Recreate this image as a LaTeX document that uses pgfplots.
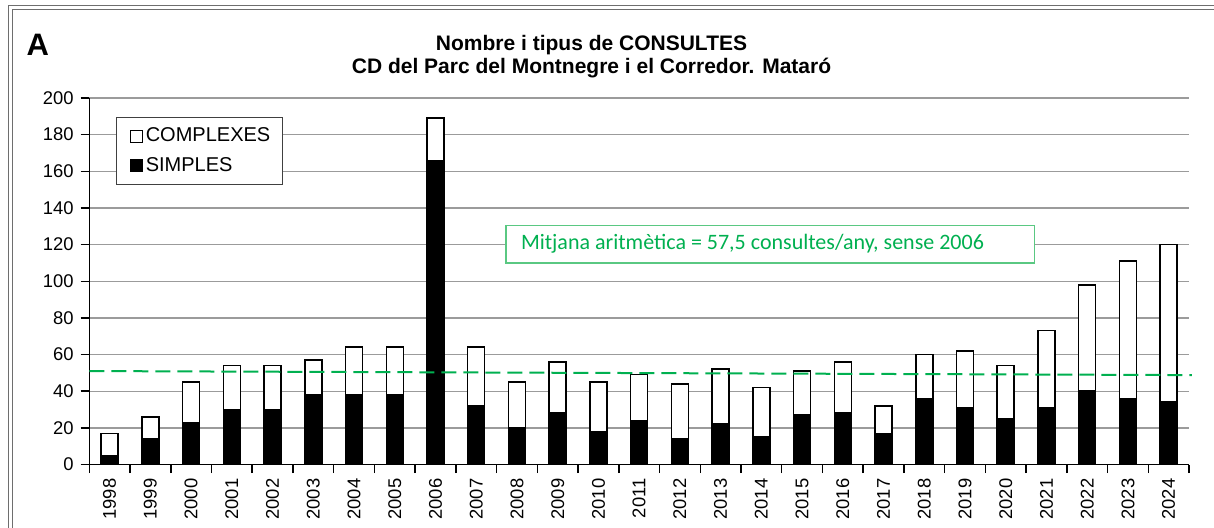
\documentclass[border=0pt]{standalone}
\usepackage{pgfplots}
\usepackage{pgfplotstable}
\pgfplotsset{compat=1.18}
\usepackage{fontspec}
\setmainfont{Liberation Sans}
\newfontfamily\calibri{Carlito}
\definecolor{mygreen}{RGB}{0,176,80}
\definecolor{boxgreen}{RGB}{90,200,130}
\definecolor{gridgray}{RGB}{155,155,155}
\definecolor{framegray}{RGB}{110,110,110}

\pgfplotstableread{
x year simple complex
0 1998 5 12
1 1999 14 12
2 2000 23 22
3 2001 30 24
4 2002 30 24
5 2003 38 19
6 2004 38 26
7 2005 38 26
8 2006 166 23
9 2007 32 32
10 2008 20 25
11 2009 28 28
12 2010 18 27
13 2011 24 25
14 2012 14 30
15 2013 22 30
16 2014 15 27
17 2015 27 24
18 2016 28 28
19 2017 17 15
20 2018 36 24
21 2019 31 31
22 2020 25 29
23 2021 31 42
24 2022 40 58
25 2023 36 75
26 2024 34 86
}\datatable

\pgfplotstableread{
x y
-0.5 51.0
26.57 48.8
}\trendtable

\begin{document}
\begin{tikzpicture}
\path[use as bounding box] (0,0) rectangle (607pt,-263.5pt);
% outer double frame
\draw[framegray, line width=0.8pt] (4.2pt,-2.8pt) rectangle (640pt,-300pt);
\draw[framegray, line width=0.8pt] (6.2pt,-4.8pt) rectangle (638pt,-298pt);

\begin{axis}[
  at={(44.65pt,-232.25pt)}, anchor=south west,
  scale only axis, width=549.85pt, height=183.25pt,
  ybar stacked, bar width=8.5pt,
  xmin=-0.5, xmax=26.5, ymin=0, ymax=200,
  ytick={0,20,...,200},
  xtick={-0.5,0.5,...,26.5},
  xticklabels={},
  extra x ticks={0,1,...,26},
  extra x tick labels={1998,1999,2000,2001,2002,2003,2004,2005,2006,2007,2008,2009,2010,2011,2012,2013,2014,2015,2016,2017,2018,2019,2020,2021,2022,2023,2024},
  extra x tick style={major tick length=0pt, tick label style={rotate=90, anchor=east, xshift=-3.5pt}},
  tick align=outside,
  major tick length=4.3pt,
  tick style={black, line width=0.75pt},
  ymajorgrids,
  grid style={gridgray, line width=0.7pt},
  axis x line*=bottom, axis y line*=left,
  axis line style={-, black, line width=0.75pt},
  /pgf/number format/assume math mode=true,
  tick label style={font=\fontsize{9.2}{11}\selectfont},
  reverse legend,
  legend style={at={(0.024,0.947)}, anchor=north west, draw=black!75, line width=0.5pt,
    font=\fontsize{10}{12}\selectfont, row sep=2.2pt, inner xsep=4.5pt, inner ysep=3pt,
    nodes={inner xsep=1.5pt},
    cells={anchor=west}},
  legend image code/.code={\path (-2.2pt,0pt); \draw[#1, line width=0.45pt] (0pt,-3pt) rectangle (6pt,3pt);},
]
\addplot[fill=black, draw=black, line width=0.75pt] table[x=x, y=simple]{\datatable};
\addlegendentry{SIMPLES}
\addplot[fill=white, draw=black, line width=0.75pt] table[x=x, y=complex]{\datatable};
\addlegendentry{COMPLEXES}
\end{axis}

\begin{axis}[
  at={(44.65pt,-232.25pt)}, anchor=south west,
  scale only axis, width=549.85pt, height=183.25pt,
  xmin=-0.5, xmax=26.5, ymin=0, ymax=200,
  hide axis, clip=false,
]
\addplot[mygreen, line width=1pt, dash pattern=on 7.5pt off 3.5pt, mark=none] table[x=x, y=y]{\trendtable};
\end{axis}

% annotation box
\draw[boxgreen, fill=white, line width=0.6pt] (253pt,-112.75pt) rectangle (517.25pt,-131.5pt);
\node[anchor=west, inner sep=0pt, text=mygreen, font=\calibri\fontsize{11}{13}\selectfont] at (260.3pt,-122.1pt) {Mitjana aritmètica = 57,5 consultes/any, sense 2006};

% titles
\node[font=\bfseries\fontsize{10.5}{11.5}\selectfont, align=center, inner sep=0pt] at (295.75pt,-28.3pt) {Nombre i tipus de CONSULTES\\CD del Parc del Montnegre i el Corredor. Mataró};
\node[font=\bfseries\fontsize{15.5}{18}\selectfont, anchor=base west, inner sep=0pt] at (13.1pt,-27.5pt) {A};
\end{tikzpicture}
\end{document}
